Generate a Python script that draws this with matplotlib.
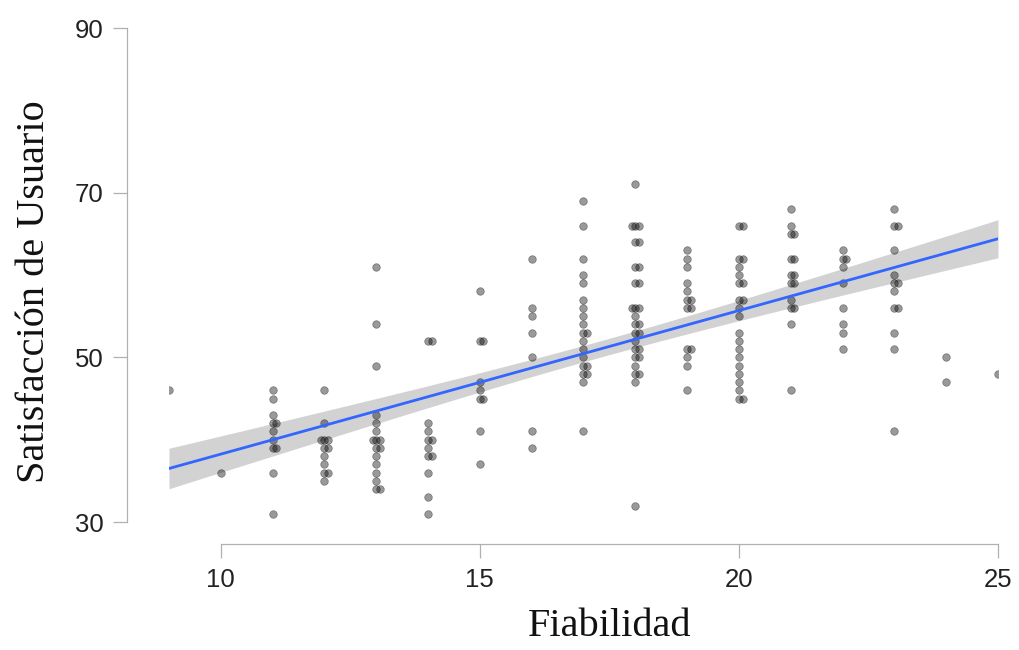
import numpy as np
import matplotlib.pyplot as plt

# Fiabilidad score and the satisfaction scores observed at each value
fiabilidad = [9, 10, 11, 12, 13, 14, 15, 16, 17, 18, 19, 20, 21, 22, 23, 24, 25]
satisfaccion = [
    [46],
    [36],
    [46, 45, 43, 42, 42, 41, 40, 39, 39, 36, 31],
    [46, 42, 40, 40, 40, 39, 39, 38, 37, 36, 36, 35],
    [61, 54, 49, 43, 42, 41, 40, 40, 40, 39, 39, 38, 37, 36, 35, 34, 34],
    [52, 52, 42, 41, 40, 40, 39, 38, 38, 36, 33, 31],
    [58, 52, 52, 47, 46, 45, 45, 41, 37],
    [62, 56, 55, 53, 50, 41, 39],
    [69, 66, 62, 60, 59, 57, 56, 55, 54, 53, 53, 52, 51, 50, 49, 49, 48, 48, 47, 41],
    [71, 66, 66, 66, 64, 64, 61, 61, 59, 59, 56, 56, 56, 55, 54, 54, 53, 53, 52,
     51, 51, 50, 50, 49, 48, 48, 47, 32],
    [63, 62, 61, 59, 58, 57, 57, 56, 56, 51, 51, 50, 49, 46],
    [66, 66, 62, 62, 61, 60, 59, 59, 57, 57, 56, 55, 53, 52, 51, 50, 49, 48, 47,
     46, 45, 45],
    [68, 66, 65, 65, 62, 62, 60, 60, 59, 59, 57, 56, 56, 54, 46],
    [63, 62, 62, 61, 59, 56, 54, 53, 51],
    [68, 66, 66, 63, 60, 59, 59, 58, 56, 56, 53, 51, 41],
    [50, 47],
    [48],
]
x_ticks = [10, 15, 20, 25]
y_ticks = [30, 50, 70, 90]

# flatten, nudging repeated scores sideways so they stay visible
dodge = [0.0, 0.07, -0.07, 0.12]
xs, ys, xd = [], [], []
for f, col in zip(fiabilidad, satisfaccion):
    seen = {}
    for s in col:
        k = seen.get(s, 0)
        seen[s] = k + 1
        xs.append(f)
        ys.append(s)
        xd.append(f + dodge[k % len(dodge)])
xs = np.array(xs, float)
ys = np.array(ys, float)
xd = np.array(xd)

# least squares fit with 95% confidence band
n = len(xs)
b1, b0 = np.polyfit(xs, ys, 1)
resid = ys - (b0 + b1 * xs)
s_err = np.sqrt(np.sum(resid ** 2) / (n - 2))
grid = np.linspace(xs.min(), xs.max(), 200)
fit = b0 + b1 * grid
se = s_err * np.sqrt(1 / n + (grid - xs.mean()) ** 2 / np.sum((xs - xs.mean()) ** 2))
band = 1.97 * se

fig = plt.figure(figsize=(10.19, 6.5), dpi=100)
ax = fig.add_axes([0.1658, 0.1969, 0.8136, 0.76])

ax.fill_between(grid, fit - band, fit + band, color='#d2d2d2', lw=0, zorder=1)
ax.scatter(xd, ys, s=30, color='black', alpha=0.4, edgecolor='black',
           linewidth=0.5, zorder=2)
ax.plot(grid, fit, color='#3366ff', lw=2.0, zorder=3)

ax.set_xlim(9, 25)
ax.set_ylim(30, 90)
ax.set_xticks(x_ticks)
ax.set_yticks(y_ticks)

for side in ['top', 'right']:
    ax.spines[side].set_visible(False)
ax.spines['left'].set_position(('outward', 30))
ax.spines['bottom'].set_position(('outward', 16))
ax.spines['left'].set_bounds(30, 90)
ax.spines['bottom'].set_bounds(10, 25)
for side in ['left', 'bottom']:
    ax.spines[side].set_color('#b0b0b0')
    ax.spines[side].set_linewidth(0.9)

ax.tick_params(length=10, width=0.9, color='#b0b0b0', labelcolor='#222222',
               labelsize=18.5, pad=7)
for lab in ax.get_xticklabels() + ax.get_yticklabels():
    lab.set_family('Liberation Sans')

ax.set_xlabel('Fiabilidad', family='Liberation Serif', fontsize=29, color='#111111')
ax.set_ylabel('Satisfacción de Usuario', family='Liberation Serif', fontsize=29,
              color='#111111', va='center')
ax.xaxis.set_label_coords(0.531, -0.175)
ax.yaxis.set_label_coords(-0.162, 0.466)

fig.savefig('out.png', dpi=100)
